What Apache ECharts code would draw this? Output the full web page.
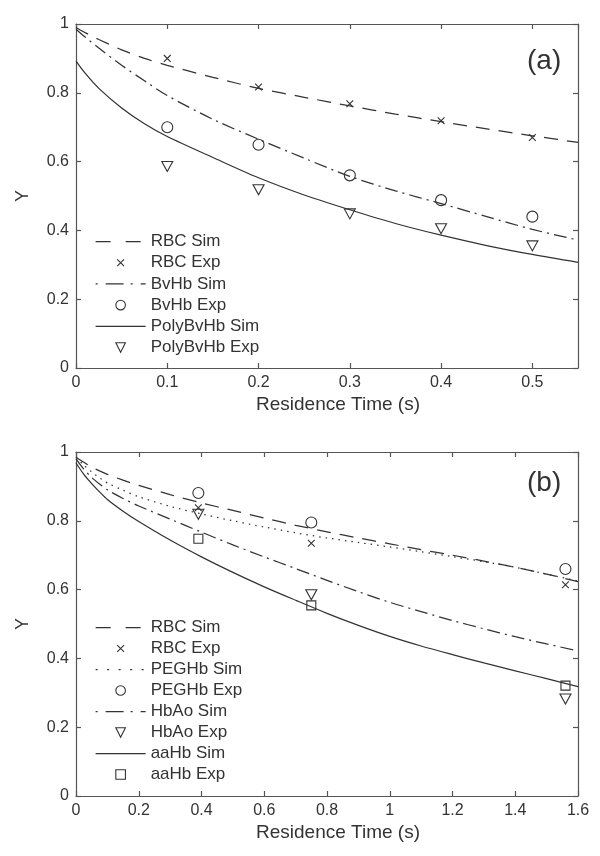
<!DOCTYPE html>
<html>
<head>
<meta charset="utf-8">
<script src="https://cdn.jsdelivr.net/npm/echarts@6/dist/echarts.min.js"></script>
<style>html,body{margin:0;padding:0;background:#fff}#c{width:600px;height:856px}</style>
</head>
<body>
<div id="c"></div>
<script>
// ---------- Panel (a) ----------
const simTimeA = [0, 0.01, 0.025, 0.05, 0.075, 0.1, 0.15, 0.2, 0.25, 0.3, 0.35, 0.4, 0.45, 0.5, 0.55];
const rbcSimA  = [0.99, 0.975, 0.955, 0.925, 0.90, 0.88, 0.845, 0.813, 0.787, 0.762, 0.738, 0.716, 0.695, 0.675, 0.656];
const bvhbSimA = [0.985, 0.962, 0.93, 0.88, 0.835, 0.792, 0.723, 0.665, 0.61, 0.557, 0.515, 0.478, 0.44, 0.403, 0.372];
const polySimA = [0.892, 0.857, 0.813, 0.756, 0.71, 0.673, 0.612, 0.553, 0.503, 0.46, 0.42, 0.386, 0.356, 0.33, 0.307];
const expTimeA = [0.1, 0.2, 0.3, 0.4, 0.5];
const rbcExpA  = [0.90, 0.817, 0.768, 0.719, 0.670];
const bvhbExpA = [0.70, 0.649, 0.560, 0.488, 0.440];
const polyExpA = [0.586, 0.518, 0.448, 0.405, 0.355];

// ---------- Panel (b) ----------
const simTimeB = [0, 0.025, 0.05, 0.075, 0.1, 0.15, 0.2, 0.3, 0.4, 0.5, 0.6, 0.7, 0.8, 0.9, 1.0, 1.1, 1.2, 1.3, 1.4, 1.5, 1.6];
const rbcSimB  = [0.985, 0.97, 0.956, 0.945, 0.935, 0.918, 0.903, 0.876, 0.852, 0.83, 0.808, 0.787, 0.768, 0.75, 0.733, 0.716, 0.70, 0.683, 0.665, 0.645, 0.623];
const pegSimB  = [0.985, 0.962, 0.942, 0.925, 0.91, 0.889, 0.87, 0.842, 0.82, 0.80, 0.782, 0.765, 0.75, 0.737, 0.724, 0.71, 0.696, 0.681, 0.665, 0.645, 0.625];
const hbaoSimB = [0.98, 0.95, 0.926, 0.907, 0.89, 0.865, 0.843, 0.805, 0.767, 0.73, 0.695, 0.661, 0.627, 0.594, 0.563, 0.536, 0.51, 0.486, 0.463, 0.442, 0.422];
const aaSimB   = [0.968, 0.935, 0.908, 0.884, 0.862, 0.828, 0.798, 0.744, 0.695, 0.65, 0.608, 0.569, 0.531, 0.496, 0.464, 0.436, 0.411, 0.387, 0.364, 0.341, 0.318];
const expTimeB = [0.39, 0.75, 1.56];
const rbcExpB  = [0.838, 0.735, 0.614];
const pegExpB  = [0.881, 0.795, 0.660];
const hbaoExpB = [0.819, 0.585, 0.282];
const aaExpB   = [0.748, 0.554, 0.321];

const xTicksA = [0, 0.1, 0.2, 0.3, 0.4, 0.5];
const xTicksB = [0, 0.2, 0.4, 0.6, 0.8, 1, 1.2, 1.4, 1.6];
const yTicks  = [0, 0.2, 0.4, 0.6, 0.8, 1];

const legendA = ['RBC Sim', 'RBC Exp', 'BvHb Sim', 'BvHb Exp', 'PolyBvHb Sim', 'PolyBvHb Exp'];
const legendB = ['RBC Sim', 'RBC Exp', 'PEGHb Sim', 'PEGHb Exp', 'HbAo Sim', 'HbAo Exp', 'aaHb Sim', 'aaHb Exp'];

const INK = '#333';
const TXT = '#333';
const FONT = '"Liberation Sans", Arial, Helvetica, sans-serif';

const DASH = [14, 9];
const DASHDOT = [13, 5, 2, 5];
const DOT = [1.5, 5];
const CROSS = 'path://M-2,-2M0,0L10,10M10,0L0,10M12,12';

const pair = (xs, ys) => xs.map((x, i) => [x, ys[i]]);

function sim(name, xs, ys, type, xi, yi) {
  return {
    name, type: 'line', xAxisIndex: xi, yAxisIndex: yi,
    data: pair(xs, ys), symbol: 'none', smooth: 0.3,
    lineStyle: { color: INK, width: 1.25, type: type },
    itemStyle: { color: INK },
    z: 2, silent: true
  };
}
function exp(name, xs, ys, symbol, size, rotate, xi, yi) {
  return {
    name, type: 'line', xAxisIndex: xi, yAxisIndex: yi,
    data: pair(xs, ys), symbol, symbolSize: size, symbolRotate: rotate,
    showSymbol: true, showAllSymbol: true,
    lineStyle: { width: 0, opacity: 0, color: INK },
    itemStyle: { color: 'rgba(255,255,255,0)', borderColor: INK, borderWidth: 1.1, opacity: 1 },
    z: 3, silent: true
  };
}

const simLegendStyle = {
  'RBC Sim':      [15, 15],
  'BvHb Sim':     [2, 8, 18, 7],
  'PEGHb Sim':    [2, 9.5],
  'HbAo Sim':     [2, 8, 18, 7],
  'PolyBvHb Sim': 'solid',
  'aaHb Sim':     'solid'
};
function legendData(names) {
  return names.map(n => {
    if (n.endsWith('Sim')) {
      return { name: n,
        itemStyle: { opacity: 0 },
        lineStyle: { color: INK, width: 1.25, opacity: 1, type: simLegendStyle[n] } };
    }
    return { name: n,
      itemStyle: { opacity: 1, color: 'rgba(255,255,255,0)', borderColor: INK, borderWidth: 1.1 },
      lineStyle: { opacity: 0, width: 0 } };
  });
}

function xAxisPair(grid, max, ticks) {
  const interval = ticks[1] - ticks[0];
  const common = {
    type: 'value', gridIndex: grid, min: 0, max: max, interval: interval,
    splitLine: { show: false },
    axisLine: { show: true, onZero: false, lineStyle: { color: '#555', width: 1.2 } },
    axisTick: { show: true, inside: true, length: 5, lineStyle: { color: '#555', width: 1.2 } }
  };
  return [
    Object.assign({}, common, {
      position: 'bottom',
      name: 'Residence Time (s)', nameLocation: 'middle', nameGap: 27,
      nameTextStyle: { fontFamily: FONT, fontSize: 19, color: TXT, padding: [0, 0, 0, 22] },
      axisLabel: { show: true, fontFamily: FONT, fontSize: 16, color: TXT, margin: 7,
        showMaxLabel: ticks[ticks.length - 1] === max,
        formatter: v => String(+v.toFixed(2)) }
    }),
    Object.assign({}, common, { position: 'top', axisLabel: { show: false } })
  ];
}
function yAxisPair(grid) {
  const common = {
    type: 'value', gridIndex: grid, min: 0, max: 1, interval: 0.2,
    splitLine: { show: false },
    axisLine: { show: true, onZero: false, lineStyle: { color: '#555', width: 1.2 } },
    axisTick: { show: true, inside: true, length: 5, lineStyle: { color: '#555', width: 1.2 } }
  };
  return [
    Object.assign({}, common, {
      position: 'left',
      name: 'Y', nameLocation: 'middle', nameGap: 44, nameRotate: 90,
      nameTextStyle: { fontFamily: FONT, fontSize: 18, color: TXT },
      axisLabel: { show: true, fontFamily: FONT, fontSize: 16, color: TXT, margin: 7,
        formatter: v => String(+v.toFixed(1)) }
    }),
    Object.assign({}, common, { position: 'right', axisLabel: { show: false } })
  ];
}

const option = {
  animation: false,
  backgroundColor: '#fff',
  textStyle: { fontFamily: FONT },
  grid: [
    { left: 76, right: 22, top: 24, height: 344, containLabel: false },
    { left: 76, right: 22, top: 452, height: 344, containLabel: false }
  ],
  title: [
    { text: '(a)', left: 527, top: 47, padding: 0, textStyle: { fontFamily: FONT, fontSize: 28, fontWeight: 'normal', color: TXT } },
    { text: '(b)', left: 527, top: 469, padding: 0, textStyle: { fontFamily: FONT, fontSize: 28, fontWeight: 'normal', color: TXT } }
  ],
  xAxis: [].concat(xAxisPair(0, 0.55, xTicksA), xAxisPair(1, 1.6, xTicksB)),
  yAxis: [].concat(yAxisPair(0), yAxisPair(1)),
  legend: [
    { orient: 'vertical', left: 95, top: 231, padding: 0, itemWidth: 50, itemHeight: 12, itemGap: 0.2,
      selectedMode: false, data: legendData(legendA),
      textStyle: { fontFamily: FONT, fontSize: 17, color: TXT, lineHeight: 21 } },
    { orient: 'vertical', left: 95, top: 617, padding: 0, itemWidth: 50, itemHeight: 12, itemGap: 0,
      selectedMode: false, data: legendData(legendB),
      textStyle: { fontFamily: FONT, fontSize: 17, color: TXT, lineHeight: 21 } }
  ],
  series: [
    sim('RBC Sim', simTimeA, rbcSimA, DASH, 0, 0),
    exp('RBC Exp', expTimeA, rbcExpA, CROSS, 9.5, 0, 0, 0),
    sim('BvHb Sim', simTimeA, bvhbSimA, DASHDOT, 0, 0),
    exp('BvHb Exp', expTimeA, bvhbExpA, 'circle', 11, 0, 0, 0),
    sim('PolyBvHb Sim', simTimeA, polySimA, 'solid', 0, 0),
    exp('PolyBvHb Exp', expTimeA, polyExpA, 'triangle', [11, 10], 180, 0, 0),

    sim('RBC Sim', simTimeB, rbcSimB, DASH, 2, 2),
    exp('RBC Exp', expTimeB, rbcExpB, CROSS, 9.5, 0, 2, 2),
    sim('PEGHb Sim', simTimeB, pegSimB, DOT, 2, 2),
    exp('PEGHb Exp', expTimeB, pegExpB, 'circle', 11, 0, 2, 2),
    sim('HbAo Sim', simTimeB, hbaoSimB, DASHDOT, 2, 2),
    exp('HbAo Exp', expTimeB, hbaoExpB, 'triangle', [11, 10], 180, 2, 2),
    sim('aaHb Sim', simTimeB, aaSimB, 'solid', 2, 2),
    exp('aaHb Exp', expTimeB, aaExpB, 'rect', 9, 0, 2, 2)
  ]
};

const chart = echarts.init(document.getElementById('c'), null, { renderer: 'canvas' });
chart.setOption(option);
</script>
</body>
</html>
